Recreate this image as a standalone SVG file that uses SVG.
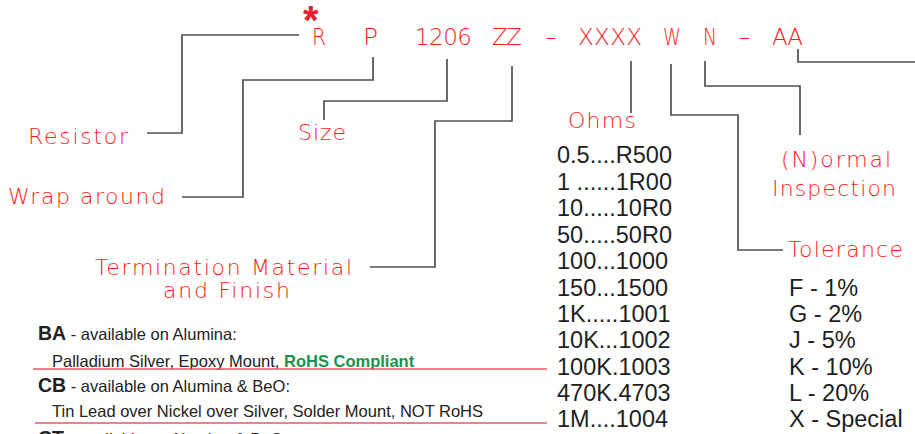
<svg xmlns="http://www.w3.org/2000/svg" width="915" height="434" viewBox="0 0 915 434">
<style>
.cad{font-family:"DejaVu Sans","Liberation Sans",sans-serif;font-weight:200;fill:#ff1a1a;font-size:22px}
.code{font-family:"DejaVu Sans","Liberation Sans",sans-serif;font-weight:200;fill:#ff1a1a;font-size:23px}
.lst{font-family:"Liberation Sans",Arial,sans-serif;fill:#1e1e1e;font-size:23.5px}
.blk{font-family:"Liberation Sans",Arial,sans-serif;fill:#222;font-size:16.5px}
.bold{font-weight:bold;font-size:19.5px}
.green{fill:#17944a;font-weight:bold}
.conn{fill:none;stroke:#505050;stroke-width:1.7}
.rl{stroke:#e65a63;stroke-width:1.6}
</style>
<rect width="915" height="434" fill="#fff"/>
<g id="code">
<text x="303" y="34" font-family="Liberation Sans,sans-serif" font-weight="bold" font-size="40" fill="#e8202a">*</text>
<text class="code" x="312" y="45" textLength="14" lengthAdjust="spacingAndGlyphs">R</text>
<text class="code" x="363" y="45" textLength="15" lengthAdjust="spacingAndGlyphs">P</text>
<text class="code" x="415" y="45" textLength="57" lengthAdjust="spacing">1206</text>
<text class="code" x="492" y="45" textLength="30" lengthAdjust="spacing">ZZ</text>
<text class="code" x="545" y="45" textLength="12" lengthAdjust="spacingAndGlyphs">-</text>
<text class="code" x="578" y="45" textLength="64" lengthAdjust="spacing">XXXX</text>
<text class="code" x="663" y="45" textLength="18" lengthAdjust="spacingAndGlyphs">W</text>
<text class="code" x="703" y="45" textLength="14" lengthAdjust="spacingAndGlyphs">N</text>
<text class="code" x="738" y="45" textLength="13" lengthAdjust="spacingAndGlyphs">-</text>
<text class="code" x="772" y="45" textLength="31" lengthAdjust="spacing">AA</text>
</g>
<g id="connectors">
<polyline class="conn" points="299,35 182,35 182,133 147,133"/>
<polyline class="conn" points="373,57 373,80 243,80 243,197 182,197"/>
<polyline class="conn" points="447,59 447,101 324,101 324,120"/>
<polyline class="conn" points="512,66 512,121 435,121 435,267 370,267"/>
<polyline class="conn" points="631,61 631,113"/>
<polyline class="conn" points="671,64 671,115 738,115 738,250 783,250"/>
<polyline class="conn" points="705,61 705,86 800,86 800,135"/>
<polyline class="conn" points="798,49 798,62 915,62"/>
</g>
<g id="resistor"><text class="cad" x="28" y="144" textLength="100" lengthAdjust="spacing">Resistor</text></g>
<g id="wrap"><text class="cad" x="8" y="204" textLength="157" lengthAdjust="spacing">Wrap around</text></g>
<g id="size"><text class="cad" x="298" y="140" textLength="48" lengthAdjust="spacing">Size</text></g>
<g id="termination">
<text class="cad" x="95" y="275" textLength="257" lengthAdjust="spacing">Termination Material</text>
<text class="cad" x="163" y="298" textLength="127" lengthAdjust="spacing">and Finish</text>
</g>
<g id="ohms"><text class="cad" x="568" y="128" textLength="68" lengthAdjust="spacing">Ohms</text></g>
<g id="inspection">
<text class="cad" x="781" y="167" textLength="110" lengthAdjust="spacing">(N)ormal</text>
<text class="cad" x="772" y="196" textLength="124" lengthAdjust="spacing">Inspection</text>
</g>
<g id="tolerance"><text class="cad" x="788" y="257" textLength="115" lengthAdjust="spacing">Tolerance</text></g>
<g id="ohms-list" class="lst">
<text x="557" y="163">0.5....R500</text>
<text x="557" y="190">1 ......1R00</text>
<text x="557" y="216">10.....10R0</text>
<text x="557" y="243">50.....50R0</text>
<text x="557" y="269">100...1000</text>
<text x="557" y="296">150...1500</text>
<text x="557" y="322">1K.....1001</text>
<text x="557" y="348">10K...1002</text>
<text x="557" y="375">100K.1003</text>
<text x="557" y="401">470K.4703</text>
<text x="557" y="427">1M....1004</text>
</g>
<g id="tolerance-list" class="lst">
<text x="789" y="296">F - 1%</text>
<text x="789" y="322">G - 2%</text>
<text x="789" y="348">J - 5%</text>
<text x="789" y="375">K - 10%</text>
<text x="789" y="401">L - 20%</text>
<text x="789" y="427">X - Special</text>
</g>
<g id="finishes" class="blk">
<text x="38" y="340"><tspan class="bold">BA</tspan> - available on Alumina:</text>
<text x="52" y="367">Palladium Silver, Epoxy Mount, <tspan class="green">RoHS Compliant</tspan></text>
<line class="rl" x1="33" y1="369" x2="547" y2="369"/>
<text x="38" y="392"><tspan class="bold">CB</tspan> - available on Alumina &amp; BeO:</text>
<text x="52" y="417">Tin Lead over Nickel over Silver, Solder Mount, NOT RoHS</text>
<line class="rl" x1="35" y1="423" x2="547" y2="423"/>
<text x="38" y="445"><tspan class="bold">CT</tspan> - available on Alumina &amp; BeO:</text>
</g>
</svg>
